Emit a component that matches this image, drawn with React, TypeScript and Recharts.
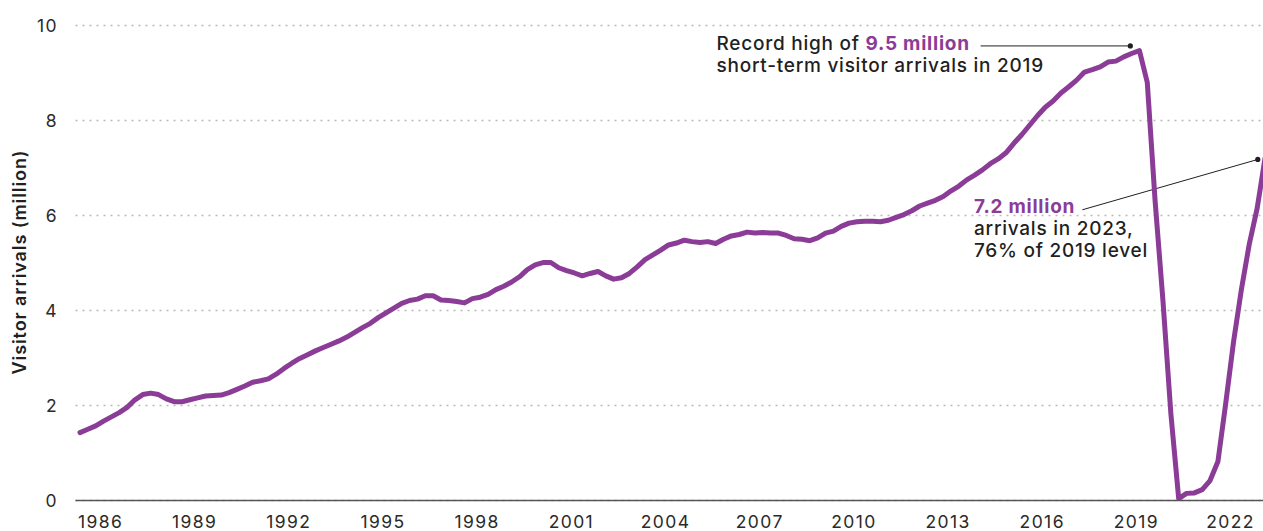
import React from "react";
import {
  LineChart,
  Line,
  XAxis,
  YAxis,
  CartesianGrid,
  ReferenceLine,
  ReferenceDot,
} from "recharts";

// Year-ended quarterly short-term visitor arrivals (million), Q1 1986 .. Q4 2023
const years = [
  1986, 1987, 1988, 1989, 1990, 1991, 1992, 1993, 1994, 1995, 1996, 1997, 1998,
  1999, 2000, 2001, 2002, 2003, 2004, 2005, 2006, 2007, 2008, 2009, 2010, 2011,
  2012, 2013, 2014, 2015, 2016, 2017, 2018, 2019, 2020, 2021, 2022, 2023,
];

const arrivals = [
  1.43, 1.5, 1.57, 1.67, // 1986
  1.76, 1.85, 1.96, 2.12, // 1987
  2.23, 2.26, 2.23, 2.14, // 1988
  2.08, 2.08, 2.12, 2.16, // 1989
  2.2, 2.21, 2.22, 2.27, // 1990
  2.34, 2.41, 2.49, 2.52, // 1991
  2.56, 2.66, 2.78, 2.89, // 1992
  2.99, 3.07, 3.15, 3.22, // 1993
  3.29, 3.36, 3.44, 3.54, // 1994
  3.64, 3.73, 3.85, 3.95, // 1995
  4.05, 4.15, 4.21, 4.24, // 1996
  4.31, 4.31, 4.22, 4.21, // 1997
  4.19, 4.16, 4.25, 4.28, // 1998
  4.34, 4.44, 4.51, 4.6, // 1999
  4.71, 4.86, 4.96, 5.01, // 2000
  5.01, 4.9, 4.84, 4.79, // 2001
  4.73, 4.78, 4.82, 4.73, // 2002
  4.66, 4.69, 4.78, 4.92, // 2003
  5.07, 5.17, 5.27, 5.38, // 2004
  5.42, 5.48, 5.45, 5.43, // 2005
  5.45, 5.41, 5.5, 5.57, // 2006
  5.6, 5.65, 5.63, 5.64, // 2007
  5.63, 5.63, 5.58, 5.51, // 2008
  5.5, 5.47, 5.53, 5.63, // 2009
  5.67, 5.77, 5.84, 5.87, // 2010
  5.88, 5.88, 5.87, 5.9, // 2011
  5.96, 6.02, 6.1, 6.2, // 2012
  6.26, 6.32, 6.4, 6.52, // 2013
  6.62, 6.75, 6.85, 6.96, // 2014
  7.09, 7.19, 7.32, 7.52, // 2015
  7.7, 7.9, 8.1, 8.28, // 2016
  8.41, 8.58, 8.71, 8.85, // 2017
  9.02, 9.07, 9.13, 9.23, // 2018
  9.25, 9.34, 9.41, 9.47, // 2019
  8.8, 6.3, 4.2, 1.84, // 2020
  0.04, 0.15, 0.16, 0.23, // 2021
  0.42, 0.82, 2.05, 3.35, // 2022
  4.45, 5.4, 6.15, 7.2, // 2023
];

const xTicks = [1986, 1989, 1992, 1995, 1998, 2001, 2004, 2007, 2010, 2013, 2016, 2019, 2022];
const yTicks = [0, 2, 4, 6, 8, 10];

// quarter position: Q4 of a year sits on that year's tick
const data = arrivals.map((v, i) => ({
  t: years[Math.floor(i / 4)] - 0.75 + (i % 4) * 0.25,
  v,
}));

const PURPLE = "#8a3c96";
const DARK = "#231f20";
const FONT = "Inter, 'Noto Sans', sans-serif";

const XTick = (props: any) => {
  const { x, payload } = props;
  return (
    <text
      x={x - 3}
      y={528}
      textAnchor="middle"
      fontFamily={FONT}
      fontSize={17.5}
      fill="#2a2a2a"
      letterSpacing={1.4}
    >
      {payload.value}
    </text>
  );
};

const YTick = (props: any) => {
  const { y, payload } = props;
  return (
    <text
      x={58}
      y={y}
      dy="0.36em"
      textAnchor="end"
      fontFamily={FONT}
      fontSize={17.5}
      fill="#2a2a2a"
      letterSpacing={1.4}
    >
      {payload.value}
    </text>
  );
};

const annot = {
  fontFamily: FONT,
  fontSize: 19,
  fontWeight: 500,
  letterSpacing: 0.75,
};

export default function App() {
  return (
    <div
      style={{
        position: "absolute",
        left: 0,
        top: 0,
        width: 1263,
        height: 531,
        overflow: "hidden",
        background: "#fff",
      }}
    >
      <LineChart
        width={1265}
        height={531}
        data={data}
        margin={{ top: 25.5, right: 0, bottom: 0, left: 0 }}
      >
        <CartesianGrid
          vertical={false}
          stroke="#b9b9b9"
          strokeWidth={1.5}
          strokeDasharray="2 5"
        />
        <XAxis
          type="number"
          dataKey="t"
          domain={[1985.25, 2023]}
          ticks={xTicks}
          padding={{ left: 4.5, right: 0 }}
          axisLine={{ stroke: "#555", strokeWidth: 1.5 }}
          tickLine={false}
          height={30.5}
          tick={<XTick />}
          interval={0}
        />
        <YAxis
          type="number"
          domain={[0, 10]}
          ticks={yTicks}
          width={75.5}
          axisLine={false}
          tickLine={false}
          tick={<YTick />}
          interval={0}
          label={{
            content: () => (
              <text
                x={25.5}
                y={262}
                transform="rotate(-90 25.5 262)"
                textAnchor="middle"
                fontFamily={FONT}
                fontSize={18}
                fontWeight={600}
                letterSpacing={0.9}
                fill={DARK}
              >
                Visitor arrivals (million)
              </text>
            ),
          }}
        />
        <ReferenceLine
          segment={[
            { x: 2013.94, y: 9.57 },
            { x: 2018.71, y: 9.57 },
          ]}
          stroke={DARK}
          strokeWidth={1}
          ifOverflow="visible"
        />
        <ReferenceDot x={2018.71} y={9.57} r={2.6} fill={DARK} stroke="none" ifOverflow="visible" />
        <ReferenceLine
          segment={[
            { x: 2017.18, y: 6.12 },
            { x: 2022.77, y: 7.18 },
          ]}
          stroke={DARK}
          strokeWidth={1}
          ifOverflow="visible"
        />
        <ReferenceDot x={2022.77} y={7.18} r={2.6} fill={DARK} stroke="none" ifOverflow="visible" />
        <Line
          type="linear"
          dataKey="v"
          stroke={PURPLE}
          strokeWidth={5}
          strokeLinejoin="round"
          strokeLinecap="round"
          dot={false}
          activeDot={false}
          isAnimationActive={false}
        />
      </LineChart>
      <svg
        width={1263}
        height={531}
        style={{ position: "absolute", left: 0, top: 0, pointerEvents: "none" }}
      >
        <text x={716.5} y={50} {...annot} fill={DARK}>
          Record high of{" "}
          <tspan fill={PURPLE} fontWeight={700}>
            9.5 million
          </tspan>
        </text>
        <text x={716.5} y={71.7} {...annot} fill={DARK}>
          short-term visitor arrivals in 2019
        </text>
        <text x={974} y={212.7} {...annot} fontWeight={700} fill={PURPLE}>
          7.2 million
        </text>
        <text x={974} y={235} {...annot} fill={DARK}>
          arrivals in 2023,
        </text>
        <text x={974} y={257.3} {...annot} fill={DARK}>
          76% of 2019 level
        </text>
      </svg>
    </div>
  );
}
